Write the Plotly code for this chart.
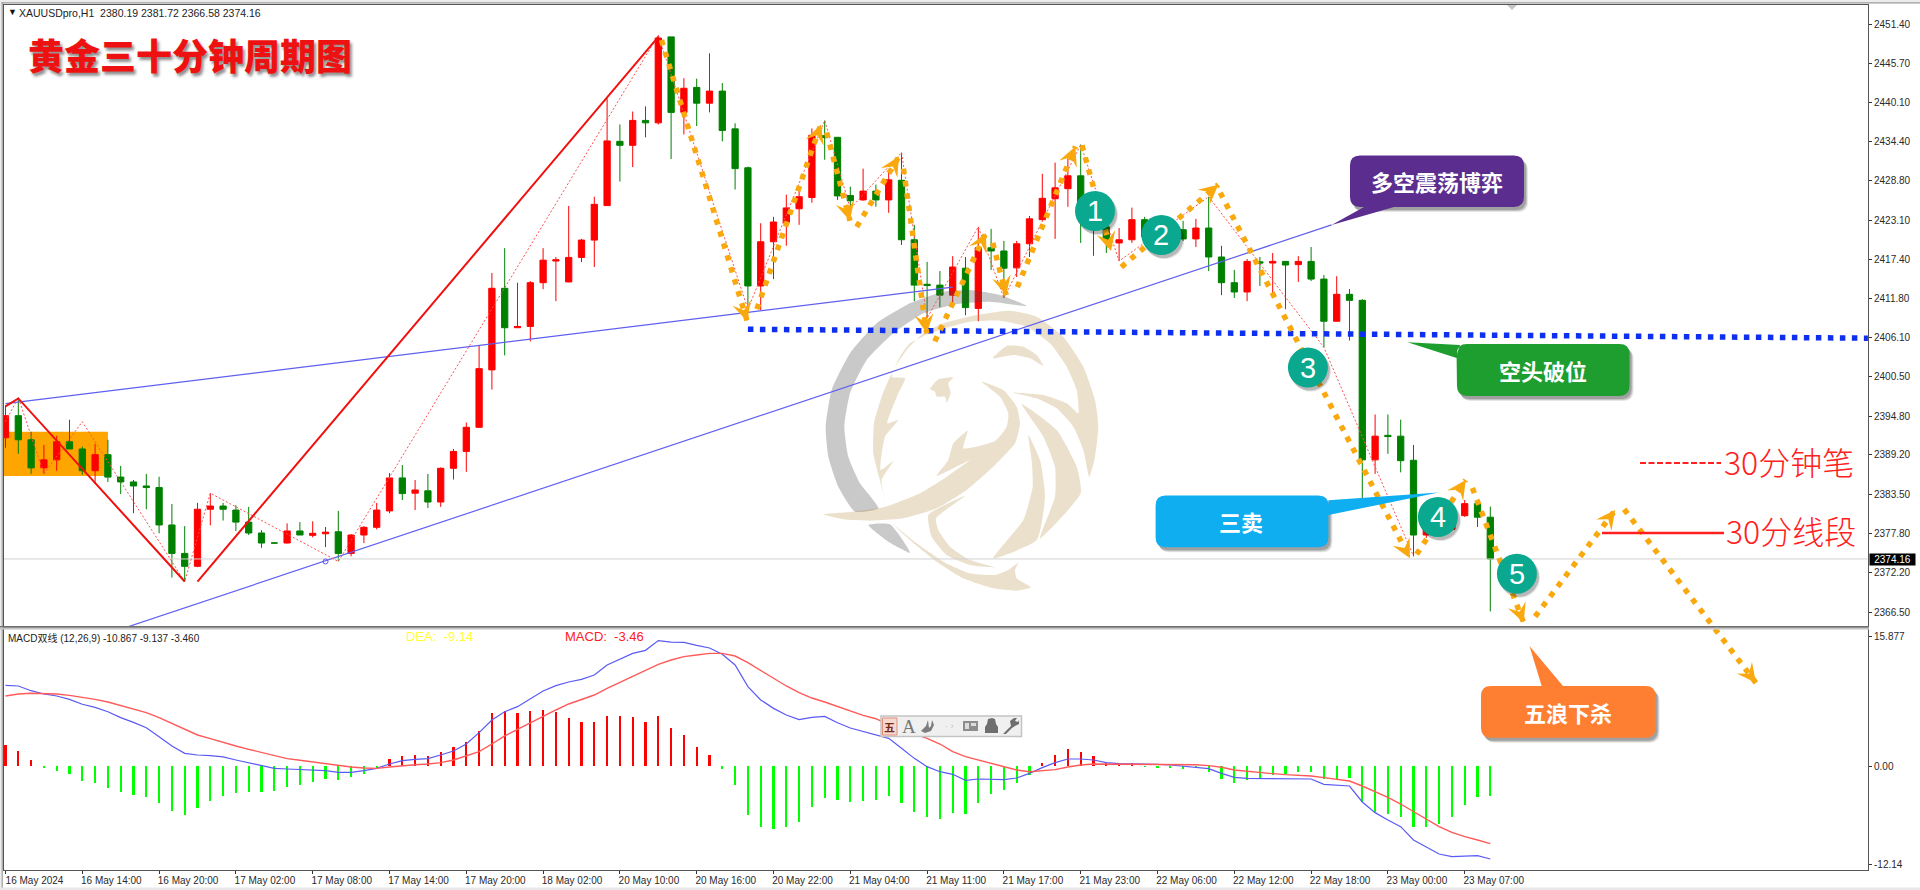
import math
import plotly.graph_objects as go

W, H = 1920, 890
CJK = "Noto Sans CJK SC"
SANS = "Liberation Sans"

# ---------- data ----------
open_ = [2391.66,2394.85,2391.37,2387.31,2388.47,2391.08,2390.04,2386.90,2389.22,2385.98,
 2385.28,2384.70,2384.47,2379.07,2374.96,2373.10,2381.34,2381.80,2381.22,2379.48,
 2377.91,2376.46,2376.46,2378.20,2377.57,2377.80,2378.09,2374.96,2377.62,2378.73,
 2381.10,2385.86,2383.66,2384.00,2382.38,2387.25,2389.69,2393.17,2401.46,2413.24,
 2407.55,2407.73,2414.05,2417.18,2414.16,2417.70,2420.20,2425.18,2434.46,2433.88,
 2437.48,2437.13,2449.54,2438.64,2442.24,2439.97,2441.71,2436.26,2430.64,2413.58,
 2419.96,2422.69,2424.72,2426.34,2435.28,2435.04,2426.63,2426.00,2427.27,2426.00,
 2428.84,2420.25,2413.82,2413.70,2412.25,2416.14,2410.34,2419.09,2418.63,2416.19,
 2419.67,2423.15,2426.17,2427.62,2429.48,2424.72,2422.11,2419.79,2420.25,2423.15,
 2421.82,2420.66,2421.70,2420.37,2421.94,2417.76,2414.05,2412.71,2417.06,2416.89,
 2417.12,2416.66,2417.12,2414.57,2408.48,2412.37,2411.50,2388.47,2392.01,2391.89,
 2388.41,2377.62,2378.61,2378.44,2380.41,2382.15,2380.19]
high = [2396.30,2397.46,2392.53,2390.62,2391.95,2394.27,2390.38,2390.79,2391.37,2387.60,
 2385.57,2386.44,2386.03,2382.09,2378.90,2382.26,2383.66,2382.26,2381.92,2381.68,
 2378.32,2376.50,2379.31,2379.48,2379.60,2378.78,2381.10,2377.74,2378.90,2382.26,
 2386.56,2387.72,2385.57,2386.44,2387.37,2390.04,2393.86,2405.00,2415.44,2419.04,
 2414.05,2414.28,2419.04,2417.76,2425.13,2420.37,2426.46,2440.67,2436.90,2438.76,
 2439.51,2449.78,2449.54,2443.57,2443.51,2447.17,2442.87,2437.07,2430.81,2422.63,
 2423.56,2426.75,2427.62,2436.32,2437.48,2435.04,2427.91,2430.52,2428.20,2430.23,
 2432.84,2422.40,2417.06,2415.73,2417.88,2417.76,2422.11,2421.82,2420.08,2420.08,
 2423.68,2429.77,2431.39,2431.97,2434.00,2427.04,2424.72,2421.94,2424.89,2423.56,
 2422.60,2423.40,2422.98,2423.27,2426.46,2419.38,2415.90,2417.47,2417.76,2418.34,
 2417.18,2417.88,2419.21,2415.15,2414.98,2413.12,2411.67,2395.02,2395.02,2394.27,
 2390.62,2379.20,2380.00,2379.60,2382.67,2382.38,2381.72]
low = [2390.21,2389.34,2386.44,2386.44,2386.90,2390.04,2386.32,2384.99,2385.28,2383.54,
 2380.76,2381.34,2377.86,2371.48,2370.90,2372.98,2379.02,2379.71,2378.20,2377.62,
 2375.77,2376.40,2376.41,2377.62,2377.28,2375.88,2373.80,2374.55,2376.46,2378.44,
 2380.76,2382.67,2381.22,2381.51,2381.68,2385.63,2386.73,2393.10,2398.62,2403.55,
 2407.55,2405.58,2413.12,2411.38,2414.10,2417.01,2416.31,2425.18,2428.66,2430.75,
 2435.04,2436.90,2431.91,2435.45,2436.67,2438.64,2434.46,2427.50,2410.22,2410.10,
 2414.57,2419.38,2422.40,2425.59,2431.80,2426.00,2424.72,2425.88,2425.01,2424.14,
 2419.50,2411.38,2408.94,2410.51,2411.09,2409.35,2408.48,2415.90,2411.84,2414.86,
 2417.76,2422.98,2420.37,2425.01,2419.79,2417.93,2418.34,2417.18,2419.79,2420.08,
 2419.90,2420.00,2420.08,2419.21,2415.73,2412.25,2411.84,2411.38,2413.58,2412.54,
 2410.22,2414.16,2414.28,2404.71,2408.48,2405.70,2382.96,2386.44,2389.34,2386.67,
 2374.55,2377.20,2378.20,2378.20,2380.23,2378.78,2366.58]
close = [2394.85,2391.37,2387.31,2388.47,2391.08,2390.04,2386.90,2389.22,2385.98,2385.28,
 2384.70,2384.47,2379.07,2374.96,2373.10,2381.34,2381.80,2381.34,2379.48,2377.91,
 2376.46,2376.46,2378.20,2377.62,2377.86,2378.03,2374.96,2377.62,2378.73,2381.22,
 2385.86,2383.60,2384.12,2382.38,2387.25,2389.69,2393.17,2401.64,2413.24,2407.55,
 2407.73,2414.05,2417.30,2417.35,2417.70,2420.20,2425.36,2434.52,2433.88,2437.48,
 2437.13,2449.37,2438.64,2442.12,2439.97,2441.71,2436.03,2430.52,2413.58,2419.96,
 2422.81,2424.84,2426.46,2435.33,2434.99,2426.58,2425.88,2427.27,2426.00,2428.90,
 2420.25,2413.70,2413.64,2412.25,2416.31,2410.45,2419.09,2418.63,2416.14,2419.67,
 2423.27,2426.23,2427.74,2429.48,2424.72,2422.11,2420.08,2420.25,2423.15,2420.66,
 2420.37,2422.40,2420.37,2421.94,2417.76,2414.05,2412.71,2417.12,2416.89,2417.12,
 2416.60,2417.12,2414.57,2408.48,2412.37,2411.50,2388.47,2391.89,2391.83,2388.35,
 2377.62,2378.61,2379.40,2379.19,2382.15,2380.19,2374.16]

macd_hist = [2.58,1.88,0.74,-0.16,-0.57,-0.98,-1.84,-2.13,-2.74,-3.24,
 -3.60,-3.81,-4.59,-5.49,-6.06,-5.20,-4.30,-3.69,-3.36,-3.24,
 -3.19,-3.11,-2.62,-2.33,-1.92,-1.64,-1.72,-1.35,-0.94,-0.29,
 0.86,1.23,1.35,1.27,1.68,2.29,2.95,4.30,6.47,6.72,
 6.51,6.80,6.88,6.67,5.90,5.41,5.41,6.10,6.10,6.02,
 5.41,6.18,4.63,3.77,2.38,1.39,-0.37,-2.33,-6.06,-7.45,
 -7.74,-7.45,-6.84,-5.08,-3.93,-4.22,-4.38,-4.30,-4.18,-3.69,
 -4.50,-5.65,-6.22,-6.47,-5.73,-5.86,-4.50,-3.40,-2.91,-2.05,
 -1.11,0.41,1.35,2.05,1.68,1.23,0.41,0.16,0.33,-0.12,
 -0.16,-0.16,-0.33,-0.20,-0.74,-1.56,-2.13,-1.72,-1.47,-1.11,
 -0.94,-0.70,-0.78,-1.64,-1.56,-1.47,-4.38,-5.69,-5.94,-6.22,
 -7.45,-7.53,-7.13,-6.22,-4.79,-3.81,-3.69]
macd_line = [9.91,9.83,9.25,8.85,8.60,8.19,7.58,7.21,6.67,5.94,
 5.36,4.71,3.60,2.46,1.56,1.35,1.27,1.11,0.74,0.41,
 0.00,-0.29,-0.37,-0.45,-0.53,-0.57,-0.78,-0.78,-0.57,-0.29,
 0.25,0.66,0.82,0.90,1.35,1.84,2.70,4.10,5.65,6.67,
 7.29,8.23,9.21,9.87,10.32,10.65,11.18,12.41,13.10,13.84,
 14.21,15.40,15.23,15.19,14.82,14.50,13.72,12.41,9.75,8.11,
 7.08,6.27,5.69,5.98,6.10,5.32,4.67,4.22,3.81,3.40,
 2.17,0.94,-0.08,-0.70,-1.02,-1.76,-1.60,-1.60,-1.68,-1.47,
 -0.90,-0.20,0.41,0.86,0.86,0.74,0.41,0.29,0.29,0.20,
 0.20,0.12,-0.04,-0.12,-0.33,-0.90,-1.39,-1.52,-1.52,-1.52,
 -1.52,-1.52,-1.60,-2.25,-2.33,-2.46,-4.42,-5.73,-6.63,-7.45,
 -9.09,-9.99,-10.81,-11.14,-11.06,-11.02,-11.43]
signal_line = [8.60,8.85,8.93,8.93,8.85,8.68,8.44,8.19,7.86,7.45,
 7.04,6.55,5.94,5.24,4.50,3.81,3.36,2.87,2.46,2.05,
 1.64,1.23,0.90,0.70,0.49,0.29,0.08,-0.12,-0.25,-0.29,
 -0.12,0.04,0.16,0.25,0.41,0.74,1.23,1.76,2.70,3.69,
 4.50,5.32,6.06,6.88,7.62,8.19,8.72,9.54,10.28,10.97,
 11.71,12.49,13.02,13.43,13.64,13.84,13.84,13.51,12.69,11.71,
 10.73,9.83,9.01,8.35,7.86,7.29,6.80,6.22,5.81,5.04,
 4.50,3.93,3.40,2.70,1.76,1.15,0.74,0.25,-0.12,-0.49,
 -0.70,-0.61,-0.45,-0.12,0.12,0.25,0.25,0.20,0.20,0.20,
 0.20,0.20,0.16,0.16,0.04,-0.16,-0.49,-0.66,-0.82,-0.94,
 -1.06,-1.15,-1.23,-1.43,-1.60,-1.84,-2.46,-3.11,-3.85,-4.67,
 -5.61,-6.51,-7.45,-8.15,-8.68,-9.09,-9.54]
for a in (open_, high, low, close, macd_hist, macd_line, signal_line):
    assert len(a) == 117, len(a)
bars = list(range(117))

time_tick_bars = [0,6,12,18,24,30,36,42,48,54,60,66,72,78,84,90,96,102,108,114]
time_tick_labels = ["16 May 2024","16 May 14:00","16 May 20:00","17 May 02:00","17 May 08:00",
 "17 May 14:00","17 May 20:00","18 May 02:00","20 May 10:00","20 May 16:00","20 May 22:00",
 "21 May 04:00","21 May 11:00","21 May 17:00","21 May 23:00","22 May 06:00","22 May 12:00",
 "22 May 18:00","23 May 00:00","23 May 07:00"]
price_ticks = [2451.40,2445.70,2440.10,2434.40,2428.80,2423.10,2417.40,2411.80,2406.10,
 2400.50,2394.80,2389.20,2383.50,2377.80,2372.20,2366.50]
macd_ticks = [15.877,0.0,-12.14]
macd_tick_labels = ["15.877","0.00","-12.14"]
last_price = 2374.16

# thick 30-minute segment line: (bar, price)
segment_bar = [0,1,14,None,15,51]
segment_price = [2396.18,2397.34,2370.90,None,2370.90,2449.54]
# thin dotted 30-minute stroke line
stroke_bar = [0,1,3,6,14,16,26,51,58,64,66,70,72,76,78,84,87,94,103,110]
stroke_price = [2394.0,2397.46,2386.44,2393.98,2370.90,2383.66,2373.80,2449.78,2410.22,2437.48,
 2424.72,2432.84,2408.94,2422.11,2411.84,2434.00,2417.18,2426.46,2404.71,2374.55]
# trend lines and breakdown level
trend_a_bar = [0,74]; trend_a_price = [2396.59,2413.41]
trend_b_bar = [9.62,103.6]; trend_b_price = [2364.40,2422.40]
level_bar = [58,145.5]; level_price = [2407.32,2406.04]
box_bar = [-0.12,8]; box_price = [2386.15,2392.53]
# hand-drawn orange wave arrows, one (start,end) per leg
wave_start_bar = [51.25,58.7,64.15,66.5,70.15,72.6,77.13,79.05,84.1,87.17,94.9,110.24,114.6,119.5,126.46]
wave_start_price = [2449.08,2410.22,2435.74,2422.11,2430.52,2405.58,2419.79,2413.41,2433.88,2416.31,2427.04,2374.84,2384.41,2365.85,2381.34]
wave_end_bar = [57.95,63.7,65.97,69.8,71.97,76.6,78.18,83.58,86.37,94.75,109.72,114.08,118.6,125.76,136.75]
wave_end_price = [2408.48,2436.90,2422.98,2432.26,2406.74,2421.24,2412.25,2433.71,2418.63,2428.20,2374.26,2385.57,2364.98,2381.22,2356.28]

UP, DOWN = "#ff0000", "#008000"
ORANGE = "#f9a80d"

# ---------- frame geometry (pixels of the 1920x890 page) ----------
L, R = 4, 1868
MT, MB = 5, 627
ST, SB = 629, 870
PX_PER_BAR, BAR0 = 12.8, 5.5
PX_PER_USD = 6.926
def bx(px): return (px - BAR0) / PX_PER_BAR
def py(px): return 2451.4 - (px - 24) / PX_PER_USD
def bar_px(b): return BAR0 + b * PX_PER_BAR
def price_px(p): return 24 + (2451.4 - p) * PX_PER_USD
def fx(px): return px / W
def fy(px): return 1 - px / H

fig = go.Figure()

fig.add_trace(go.Candlestick(
    x=bars, open=open_, high=high, low=low, close=close, xaxis="x", yaxis="y",
    increasing=dict(line=dict(color=UP, width=1), fillcolor=UP),
    decreasing=dict(line=dict(color=DOWN, width=1), fillcolor=DOWN),
    whiskerwidth=0, showlegend=False, hoverinfo="skip"))

# watermark logo sits over the candles but under the drawn lines
GREY_WM = "rgba(70,70,70,0.29)"
TAN_WM = "rgba(180,144,73,0.28)"
LOGO_GREY = [
 [(650,78),(570,45),(480,30),(400,35),(300,70),(200,130),(120,220),(65,330),(47,440),(55,530),(85,620),(135,695),
  (205,685),(150,610),(115,530),(103,440),(120,340),(170,240),(250,160),(340,100),(440,72),(540,65)],
 [(175,735),(240,733),(300,818),(235,785)],
]
LOGO_TAN = [
 [(228,680),(215,620),(190,520),(192,430),(215,350),(250,270),(290,210),(340,160),(400,130),(500,105),(600,92),
  (680,110),(760,170),(820,260),(855,360),(865,440),(855,530),(838,590),(820,510),(790,440),(740,385),(680,355),
  (610,338),(700,345),(770,370),(805,400),(800,330),(770,260),(720,190),(650,140),(570,122),(480,125),(420,140),
  (360,160),(300,190),(270,230),(245,290),(285,295),(265,340),(232,430),(265,420),(225,470),(212,570),(250,543),
  (215,600)],
 [(635,372),(740,450),(800,560),(812,640),(690,775),(735,650),(735,560),(700,470)],
 [(655,465),(690,540),(705,650),(680,780),(550,835),(640,720),(668,620),(665,540)],
 [(548,235),(590,198),(640,200),(680,225),(700,258),(660,235),(610,225)],
 [(360,328),(385,298),(430,292),(415,310),(422,340),(410,368),(405,350),(380,350),(375,335)],
 [(40,703),(130,695),(228,680),(330,640),(410,590),(480,540),(380,588),(415,540),(430,490),(473,452),(460,505),
  (555,483),(590,440),(595,400),(570,350),(515,305),(580,330),(620,380),(630,430),(615,490),(555,555),(470,630),
  (380,685),(280,715),(180,722),(100,718)],
 [(465,648),(355,705),(365,770),(410,825),(480,855),(555,862),(480,840),(420,800),(385,750),(378,715)],
 [(245,730),(300,780),(380,845),(460,895),(550,925),(620,932),(662,922),(620,895),(615,870),(625,848),(595,870),
  (555,885),(480,880),(400,845),(320,790)],
]
def logo(polys, colour):
    for poly in polys:
        xs = [bx(810 + a / 3) for a, b in poly + poly[:1]]
        ys = [py(280 + b / 3) for a, b in poly + poly[:1]]
        fig.add_trace(go.Scatter(x=xs, y=ys, mode="lines", fill="toself", fillcolor=colour,
                                 line=dict(width=0, shape="spline", smoothing=0.5),
                                 hoverinfo="skip", showlegend=False))
logo(LOGO_GREY, GREY_WM)
logo(LOGO_TAN, TAN_WM)

def line(x, y, color, width, dash="solid", **kw):
    fig.add_trace(go.Scatter(x=x, y=y, mode="lines", line=dict(color=color, width=width, dash=dash),
                             hoverinfo="skip", showlegend=False, **kw))

line([-0.12, 145.5], [last_price, last_price], "#d2d2d2", 1)
line(trend_a_bar, trend_a_price, "#5f5ff0", 1.2)
line(trend_b_bar, trend_b_price, "#5f5ff0", 1.2)
line(stroke_bar, stroke_price, "#ff5050", 1, "2px,2px")
line(segment_bar, segment_price, "#f01010", 2)
line(level_bar, level_price, "#0f2ff0", 5.5, "5.5px,6.5px")
fig.add_trace(go.Scatter(x=[25], y=[2373.8], mode="markers", hoverinfo="skip", showlegend=False,
    marker=dict(symbol="circle-open", size=5, color="#5a5af0", line=dict(width=1))))

# all but the last leg stay in the price pane; the last leg runs on over the MACD pane
for i in range(len(wave_start_bar)):
    last = i == len(wave_start_bar) - 1
    fig.add_trace(go.Scatter(
        x=[wave_start_bar[i], wave_end_bar[i]], y=[wave_start_price[i], wave_end_price[i]],
        xaxis="x3" if last else "x", yaxis="y3" if last else "y",
        mode="lines", line=dict(color=ORANGE, width=5.5, dash="5.5px,7px"),
        hoverinfo="skip", showlegend=False))

# MACD pane
fig.add_trace(go.Bar(x=bars, y=macd_hist, xaxis="x2", yaxis="y2", width=0.18,
    marker=dict(color=["#ff0000" if v > 0 else "#00ff00" for v in macd_hist], line=dict(width=0)),
    hoverinfo="skip", showlegend=False))
fig.add_trace(go.Scatter(x=bars, y=macd_line, xaxis="x2", yaxis="y2", mode="lines",
    line=dict(color="#5a5af5", width=1.2), hoverinfo="skip", showlegend=False))
fig.add_trace(go.Scatter(x=bars, y=signal_line, xaxis="x2", yaxis="y2", mode="lines",
    line=dict(color="#ff5a5a", width=1.4), hoverinfo="skip", showlegend=False))

# ---------- shapes ----------
shapes = []
def P(pts, close=True):
    s = "M " + " L ".join(f"{fx(a):.5f},{fy(b):.5f}" for a, b in pts)
    return s + (" Z" if close else "")
def path_shape(d, fill, layer="above"):
    return dict(type="path", xref="paper", yref="paper", path=d, fillcolor=fill,
                line=dict(width=0), layer=layer)
def rect_px(x0, y0, x1, y1, fill, stroke=None, sw=1, layer="above"):
    return dict(type="rect", xref="paper", yref="paper", x0=fx(x0), x1=fx(x1), y0=fy(y0), y1=fy(y1),
                fillcolor=fill, line=dict(color=stroke, width=sw) if stroke else dict(width=0), layer=layer)

shapes.append(dict(type="rect", xref="x", yref="y", x0=box_bar[0], x1=box_bar[1], y0=box_price[0], y1=box_price[1],
                   fillcolor="#ffa500", line=dict(width=0), layer="below"))

# swallow-tailed heads of the wave arrows, aligned with each leg
for i in range(len(wave_start_bar)):
    x1, y1 = bar_px(wave_end_bar[i]), price_px(wave_end_price[i])
    x0, y0 = bar_px(wave_start_bar[i]), price_px(wave_start_price[i])
    n = math.hypot(x1 - x0, y1 - y0)
    ux, uy = (x1 - x0) / n, (y1 - y0) / n
    LEN, HALF, NOTCH = 19, 9.5, 11.5
    shapes.append(path_shape(P([
        (x1, y1),
        (x1 - LEN * ux - HALF * uy, y1 - LEN * uy + HALF * ux),
        (x1 - NOTCH * ux, y1 - NOTCH * uy),
        (x1 - LEN * ux + HALF * uy, y1 - LEN * uy - HALF * ux),
    ]), ORANGE))

def round_rect(x0, y0, x1, y1, r, tail=None, side=None):
    """Rounded box outline, tail = list of points inserted on the named side."""
    d = f"M {fx(x0+r):.5f},{fy(y0):.5f} "
    if side == "top":
        for a, b in tail: d += f"L {fx(a):.5f},{fy(b):.5f} "
    d += f"L {fx(x1-r):.5f},{fy(y0):.5f} Q {fx(x1):.5f},{fy(y0):.5f} {fx(x1):.5f},{fy(y0+r):.5f} "
    if side == "right":
        for a, b in tail: d += f"L {fx(a):.5f},{fy(b):.5f} "
    d += f"L {fx(x1):.5f},{fy(y1-r):.5f} Q {fx(x1):.5f},{fy(y1):.5f} {fx(x1-r):.5f},{fy(y1):.5f} "
    if side == "bottom":
        for a, b in tail: d += f"L {fx(a):.5f},{fy(b):.5f} "
    d += f"L {fx(x0+r):.5f},{fy(y1):.5f} Q {fx(x0):.5f},{fy(y1):.5f} {fx(x0):.5f},{fy(y1-r):.5f} "
    if side == "left":
        for a, b in tail: d += f"L {fx(a):.5f},{fy(b):.5f} "
    d += f"L {fx(x0):.5f},{fy(y0+r):.5f} Q {fx(x0):.5f},{fy(y0):.5f} {fx(x0+r):.5f},{fy(y0):.5f} Z"
    return d

def callout(x0, y0, x1, y1, colour, tail, side):
    for off, a in ((5, .10), (4, .14), (3, .18)):
        shapes.append(path_shape(round_rect(x0+off-1, y0+off, x1+off-1, y1+off, 10),
                                 f"rgba(0,0,0,{a})"))
    shapes.append(path_shape(round_rect(x0, y0, x1, y1, 10, [(t[0], t[1]) for t in tail], side), colour))

callout(1350, 155.5, 1524, 207, "#5b2d8e", [(1394, 207), (1331.6, 225), (1364, 207)], "bottom")
callout(1457, 344, 1629.5, 396, "#1e9e2f", [(1456.6, 358), (1407.5, 342.3), (1460, 345)], "left")
callout(1155.6, 495.4, 1328.4, 547.2, "#0eaef0", [(1328.4, 500.2), (1438.7, 492.6), (1328.4, 515)], "right")
callout(1481, 686, 1655.6, 737.7, "#ff7f32", [(1541.7, 686), (1529.5, 646), (1563, 686)], "top")

circles = [(1095, 211, "1"), (1161.4, 235, "2"), (1307.9, 367.6, "3"), (1437.9, 517, "4"), (1516.9, 573.7, "5")]
for cx, cy, _ in circles:
    for off, a in ((4, .12), (3, .18)):
        shapes.append(dict(type="circle", xref="paper", yref="paper", x0=fx(cx-20+off-1), x1=fx(cx+20+off-1),
                           y0=fy(cy+20+off), y1=fy(cy-20+off), fillcolor=f"rgba(0,0,0,{a})", line=dict(width=0)))
    shapes.append(dict(type="circle", xref="paper", yref="paper", x0=fx(cx-20), x1=fx(cx+20),
                       y0=fy(cy+20), y1=fy(cy-20), fillcolor="#0aa88e", line=dict(width=0)))

# window frame and pane separator
shapes += [
    rect_px(0, 0, W, 2.5, "#ececec"),
    rect_px(0, 2.2, W, 3.4, "#9a9a9a"),
    rect_px(0, 0, 1.6, 889, "#ececec"),
    rect_px(1.6, 2.2, 2.8, 889, "#9a9a9a"),
    rect_px(0, 887.4, W, 890, "#e8e8e8"),
    rect_px(0, 626, R + 1, 627.4, "#6e6e6e"),
    rect_px(0, 627.4, R + 1, 629.4, "#c4c4c4"),
    # legend samples
    dict(type="line", xref="paper", yref="paper", x0=fx(1640), x1=fx(1721), y0=fy(463), y1=fy(463),
         line=dict(color="#ff2020", width=2, dash="6px,2.5px")),
    dict(type="line", xref="paper", yref="paper", x0=fx(1602), x1=fx(1724), y0=fy(533), y1=fy(533),
         line=dict(color="#ff2020", width=2.4)),
    # tick marker of the window at top right
    path_shape(P([(1507, 5), (1517, 5), (1512, 10)]), "#c6c6c6"),
    # chart-toolbar
    rect_px(881, 716, 1021.5, 736.5, "#f0f0f0", "#c4c4c4", 1.5),
    rect_px(882.5, 718, 897, 735, "#f5d8d0", "#e0907a", 1),
    path_shape(P([(928, 720), (926, 726), (921, 731), (925, 733), (931, 731), (934, 725), (932, 720), (931, 726), (929, 728)]), "#7d7d7d"),
    rect_px(963, 721, 978, 731, "#8d8d8d"),
    rect_px(965, 723, 969, 729, "#dcdcdc"),
    rect_px(971, 723, 976, 726, "#dcdcdc"),
    path_shape(P([(985, 733), (985, 727), (987, 724), (988, 719), (992, 718), (995, 719), (996, 724), (998, 727), (998, 733)]), "#6e6e6e"),
    path_shape(P([(1003, 734), (1006, 731), (1011, 726), (1010, 721), (1014, 718), (1017, 718), (1015, 721), (1018, 722), (1019, 720), (1019, 724), (1015, 726), (1012, 728), (1006, 734)]), "#6e6e6e"),
]

# ---------- text ----------
ann = []
def txt(x, y, text, size, color, anchor="left", font=SANS, **extra):
    f = dict(family=font, size=size, color=color)
    for k in ("weight", "shadow"):
        if k in extra: f[k] = extra.pop(k)
    ann.append(dict(xref="paper", yref="paper", x=fx(x), y=fy(y), text=text, showarrow=False,
                    xanchor=anchor, yanchor="middle", font=f, align=anchor, **extra))

txt(26, 53.5, "黄金三十分钟周期图", 36, "#ee1111", font=CJK, weight=900, shadow="2px 3px 3px rgba(0,0,0,0.45)")
txt(6, 12.5, "▼", 9, "#111111")
txt(17, 13, "XAUUSDpro,H1  2380.19 2381.72 2366.58 2374.16", 10.5, "#222222")
txt(6, 638, "MACD双线 (12,26,9) -10.867 -9.137 -3.460", 10, "#222222", font=f"{SANS}, {CJK}")
txt(404, 636, "DEA:  -9.14", 13, "#ffff33")
txt(563, 636, "MACD:  -3.46", 13, "#ff2020")
txt(1437, 181, "多空震荡博弈", 22, "#ffffff", "center", CJK, weight=700)
txt(1543, 370, "空头破位", 22, "#ffffff", "center", CJK, weight=700)
txt(1241, 521, "三卖", 22, "#ffffff", "center", CJK, weight=700)
txt(1568, 712, "五浪下杀", 22, "#ffffff", "center", CJK, weight=700)
txt(1722, 461, "30分钟笔", 32, "#ff2020", font=CJK, weight=300)
txt(1724, 530, "30分线段", 32, "#ff2020", font=CJK, weight=300)
for cx, cy, label in circles:
    txt(cx, cy, label, 29, "#ffffff", "center")
txt(889.7, 726.5, "五", 11, "#7a2a1a", "center", CJK, weight=700)
txt(909, 726, "A", 19, "#777777", "center", "Liberation Serif")
txt(949, 726, "· ›", 9, "#bbbbbb", "center")
ann.append(dict(xref="paper", yref="paper", x=fx(1892.5), y=fy(559), text=f"{last_price:.2f}", showarrow=False,
                font=dict(family=SANS, size=10, color="#ffffff"), bgcolor="#000000",
                width=45, height=11, borderpad=0, xanchor="center", yanchor="middle"))

axis_font = dict(family=SANS, size=10, color="#2a2a2a")
x_range = [bx(L), bx(R)]
fig.update_layout(
    width=W, height=H, autosize=False, margin=dict(l=0, r=0, t=0, b=0),
    paper_bgcolor="#ffffff", plot_bgcolor="rgba(0,0,0,0)", showlegend=False, bargap=0,
    shapes=shapes, annotations=ann, hovermode=False,
    xaxis=dict(domain=[fx(L), fx(R)], range=x_range, anchor="y", showgrid=False, zeroline=False,
               showticklabels=False, ticks="", rangeslider=dict(visible=False),
               showline=True, linecolor="#555555", linewidth=1, mirror=True),
    yaxis=dict(domain=[fy(MB), fy(MT)], range=[py(MB), py(MT)], side="right", anchor="x", showgrid=False,
               zeroline=False, tickmode="array", tickvals=price_ticks,
               ticktext=[f"{v:.2f}" for v in price_ticks], ticks="outside", ticklen=3, tickcolor="#333333",
               tickfont=axis_font, showline=True, linecolor="#555555", linewidth=1, mirror=True),
    xaxis2=dict(domain=[fx(L), fx(R)], range=x_range, anchor="y2", showgrid=False, zeroline=False,
                tickmode="array", tickvals=time_tick_bars, ticktext=time_tick_labels, ticks="outside",
                ticklen=3, tickcolor="#333333", tickfont=axis_font, tickangle=0, ticklabelshift=29,
                ticklabelstandoff=-2, showline=True, linecolor="#555555", linewidth=1, mirror=True),
    yaxis2=dict(domain=[fy(SB), fy(ST)], range=[(766 - SB) / 8.14, (766 - ST) / 8.14], side="right", anchor="x2",
                showgrid=False, zeroline=False, tickmode="array", tickvals=macd_ticks, ticktext=macd_tick_labels,
                ticks="outside", ticklen=3, tickcolor="#333333", tickfont=axis_font,
                showline=True, linecolor="#555555", linewidth=1, mirror=True),
    # invisible overlay spanning both panes, same price scale, for the final arrow
    xaxis3=dict(domain=[fx(L), fx(R)], range=x_range, anchor="y3", visible=False),
    yaxis3=dict(domain=[fy(SB), fy(MT)], range=[py(SB), py(MT)], anchor="x3", visible=False),
)

fig.write_html("out.html", config=dict(displayModeBar=False, responsive=False),
               post_script="document.body.style.margin='0';document.documentElement.style.overflow='hidden';")
